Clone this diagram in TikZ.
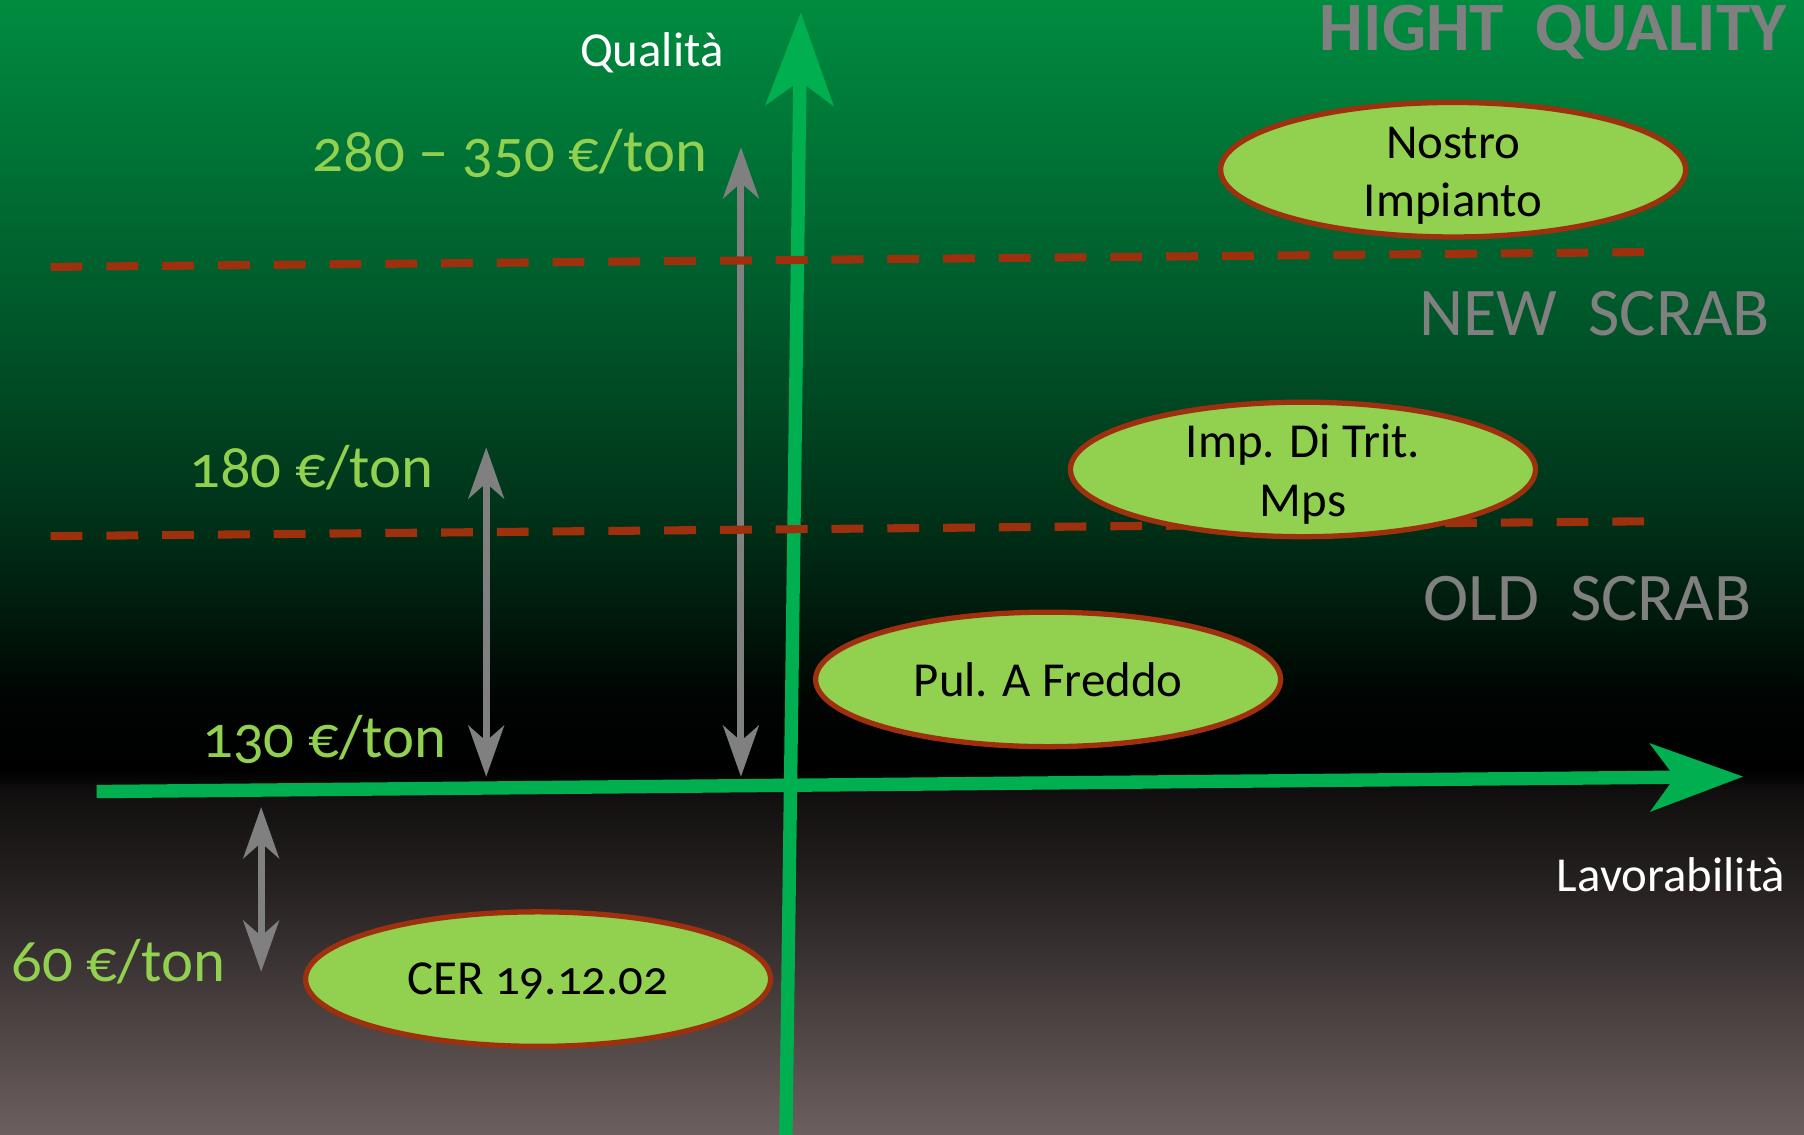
\documentclass[tikz,border=0pt]{standalone}
\usepackage{fontspec}
\setmainfont[Numbers=OldStyle]{Carlito}
\usetikzlibrary{arrows.meta,shapes.geometric}
\definecolor{axisgreen}{RGB}{0,176,80}
\definecolor{lightgreen}{RGB}{146,208,80}
\definecolor{brick}{RGB}{158,48,14}
\definecolor{txtgray}{RGB}{128,128,128}
\pgfdeclareverticalshading{bgshade}{100bp}{
 rgb(0bp)=(0.42,0.376,0.369);
 rgb(25bp)=(0.42,0.376,0.369);
 rgb(30.91bp)=(0.275,0.24,0.24);
 rgb(35.32bp)=(0.165,0.141,0.141);
 rgb(40.17bp)=(0.063,0.055,0.055);
 rgb(41.05bp)=(0,0,0);
 rgb(44.14bp)=(0,0.016,0.008);
 rgb(47.88bp)=(0,0.102,0.047);
 rgb(52.69bp)=(0,0.204,0.102);
 rgb(62.21bp)=(0,0.361,0.173);
 rgb(75bp)=(0,0.549,0.251);
 rgb(100bp)=(0,0.549,0.251)}
\begin{document}
\begin{tikzpicture}[x=0.0115cm,y=-0.0115cm,
  pricelbl/.style={text=lightgreen,font=\fontsize{17.3}{20}\selectfont,inner sep=0pt,anchor=base},
  axislbl/.style={text=white,font=\fontsize{13.9}{16}\selectfont,inner sep=0pt,anchor=base},
  zonelbl/.style={text=txtgray,font=\fontsize{19.4}{22}\selectfont,inner sep=0pt,anchor=base},
  oval/.style={ellipse,draw=brick,line width=1.5pt,fill=lightgreen,minimum width=4.65cm,minimum height=1.345cm,inner xsep=0pt,inner ysep=-9pt,align=center,font=\fontsize{13.9}{16.6}\selectfont},
  axisline/.style={draw=axisgreen,line width=3.8pt,-{Stealth[length=26.6pt,width=19.6pt,inset=7.2pt,line width=0pt]}},
  pricerange/.style={draw=txtgray,line width=2pt,{Stealth[length=14.7pt,width=10.4pt,inset=4.6pt,line width=0pt]}-{Stealth[length=14.7pt,width=10.4pt,inset=4.6pt,line width=0pt]}},
  limitline/.style={draw=brick,line width=2.3pt,dash pattern=on 9.06pt off 6.81pt}]
\useasboundingbox (0,0) rectangle (1568,986);
\shade[shading=bgshade] (0,0) rectangle (1568,986);
% axes
\coordinate (xs) at (84,688);
\coordinate (xe) at (1515,675);
\coordinate (ys) at (683,992);
\coordinate (ye) at (696,11);
\draw[axisline] (xs) -- (xe);
\draw[axisline] (ys) -- (ye);
% range arrows
\coordinate (r1t) at (644,128);
\coordinate (r1b) at (644,675);
\coordinate (r2t) at (422.6,389);
\coordinate (r2b) at (422.6,675);
\coordinate (r3t) at (227,701.6);
\coordinate (r3b) at (227,844.5);
\draw[pricerange] (r1b) -- (r1t);
\draw[pricerange] (r2b) -- (r2t);
\draw[pricerange] (r3b) -- (r3t);
% dashed limits
\coordinate (d1l) at (44,232);
\coordinate (d1r) at (1438,219);
\coordinate (d2l) at (44,466);
\coordinate (d2r) at (1438,453);
\draw[limitline] (d1l) -- (d1r);
\draw[limitline] (d2l) -- (d2r);
% ellipses
\node[oval] (nostro) at (1263,147.5) {\rule{0pt}{12.2pt}Nostro\\Impianto};
\node[oval] (trit) at (1132.5,408) {\rule{0pt}{12.2pt}Imp. Di Trit.\\Mps};
\node[oval] (pul) at (911,590.5) {Pul. A Freddo};
\node[oval] (cer) at (467.7,851) {\raisebox{0pt}[\height][0pt]{CER 19.12.02}};
% labels
\node[axislbl] (qual) at (566.5,57.4) {Qualità};
\node[axislbl] (lav) at (1452.5,775) {Lavorabilità};
\node[pricelbl] (p280) at (443,149) {280 – 350 €/ton};
\node[pricelbl] (p180) at (270.7,423.6) {180 €/ton};
\node[pricelbl] (p130) at (281.9,658) {130 €/ton};
\node[pricelbl] (p60) at (102.8,852.7) {60 €/ton};
\node[zonelbl,font=\bfseries\fontsize{19.7}{22}\selectfont] (hq) at (1349.8,44.3) {HIGHT\ \ QUALITY};
\node[zonelbl] (new) at (1386,292) {NEW\ \ SCRAB};
\node[zonelbl] (old) at (1379.8,539.5) {OLD\ \ SCRAB};
\end{tikzpicture}
\end{document}
